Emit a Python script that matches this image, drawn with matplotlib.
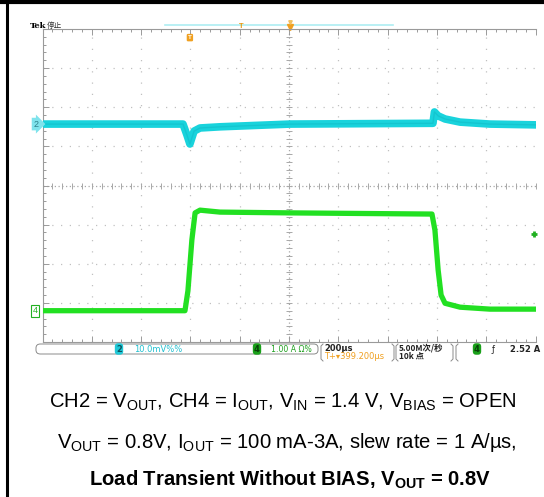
import numpy as np
import matplotlib.pyplot as plt
from matplotlib.patches import FancyBboxPatch
from matplotlib.lines import Line2D

plt.rcParams['font.family'] = ['Liberation Sans', 'Noto Sans CJK SC', 'DejaVu Sans']
plt.rcParams['mathtext.fontset'] = 'custom'
plt.rcParams['mathtext.rm'] = 'Liberation Sans'
plt.rcParams['mathtext.bf'] = 'Liberation Sans:bold'

# scope traces: time in us (200 us/div), level in divisions
ch2_t = [-1000, -430, -414, -402, -385, -361, -280, -158, 4, 584, 590, 605, 633, 694, 815, 1000]
ch2_v = [1.57, 1.57, 1.29, 1.06, 1.39, 1.47, 1.50, 1.53, 1.57, 1.59, 1.88, 1.78, 1.70, 1.62, 1.57, 1.55]

ch4_t = [-1000, -422, -410, -394, -381, -361, -280, 4, 580, 592, 605, 617, 633, 694, 815, 1000]
ch4_v = [-3.20, -3.20, -2.69, -1.39, -0.70, -0.63, -0.68, -0.70, -0.73, -1.14, -2.16, -2.80, -3.01, -3.11, -3.16, -3.16]

trig_level = -1.24
trig_time = -402

caption1 = r'CH2 = V$_{\mathrm{OUT}}$, CH4 = I$_{\mathrm{OUT}}$, V$_{\mathrm{IN}}$ = 1.4 V, V$_{\mathrm{BIAS}}$ = OPEN'
caption2 = r'V$_{\mathrm{OUT}}$ = 0.8V, I$_{\mathrm{OUT}}$ = 100 mA-3A, slew rate = 1 A/µs,'
caption3 = r'Load Transient Without BIAS, V$_{\mathbf{OUT}}$ = 0.8V'

W, H = 544, 497
fig = plt.figure(figsize=(W / 100, H / 100), dpi=100)

def fx(x):
    return x / W

def fy(y):
    return 1 - y / H

ax = fig.add_axes([fx(42.5), fy(342), fx(493), 313 / H])
ax.set_xlim(-1000, 1000)
ax.set_ylim(-4, 4)

# graticule
grid_c = '#c0c0c0'
for x in np.arange(-800, 1000, 200):
    if x != 0:
        ax.axvline(x, color=grid_c, lw=0.9, ls=(0, (1, 8)), zorder=1)
for y in np.arange(-3, 4, 1):
    if y != 0:
        ax.axhline(y, color=grid_c, lw=0.9, ls=(0, (1, 6)), zorder=1)
ax.axvline(0, color='#a8a8a8', lw=0.9, ls=(0, (1, 2)), zorder=1)
ax.axhline(0, color='#a8a8a8', lw=0.9, ls=(0, (1, 2)), zorder=1)
ax.plot(np.zeros(41), np.linspace(-4, 4, 41), ls='none', marker='_', ms=4, mew=0.7, color='#a8a8a8', zorder=1)
ax.plot(np.linspace(-1000, 1000, 51), np.zeros(51), ls='none', marker='|', ms=4, mew=0.7, color='#a8a8a8', zorder=1)

for s in ['top', 'left', 'bottom']:
    ax.spines[s].set_color('#9a9a9a')
    ax.spines[s].set_linewidth(0.8)
ax.spines['right'].set_visible(False)
ax.set_xticks(np.arange(-1000, 1001, 200))
ax.set_xticks(np.arange(-1000, 1001, 40), minor=True)
ax.set_yticks(np.arange(-4, 5, 1))
ax.set_yticks(np.arange(-4, 4.01, 0.2), minor=True)
ax.tick_params(which='both', direction='in', top=True, bottom=True, left=True, right=False,
               labelbottom=False, labelleft=False, color='#9a9a9a', width=0.7)
ax.tick_params(which='major', length=4)
ax.tick_params(which='minor', length=2.5)

# traces
ax.plot(ch2_t, ch2_v, color='#19d3dc', lw=5.5, solid_joinstyle='round', zorder=3)
ax.plot(ch2_t, ch2_v, color='#10b8c4', lw=1.0, alpha=0.5, zorder=3)
ax.plot(ch4_t, ch4_v, color='#22e022', lw=3.8, solid_joinstyle='round', zorder=3)

# channel markers
ax.text(-0.008, ch2_v[0], '2', transform=ax.get_yaxis_transform(), ha='right', va='center',
        fontsize=6.5, color='#2a7f8a', clip_on=False,
        bbox=dict(boxstyle='rarrow,pad=0.2', fc='#7fe3ec', ec='none'))
ax.text(-0.01, ch4_v[0], '4', transform=ax.get_yaxis_transform(), ha='right', va='center',
        fontsize=6.5, color='#22b022', clip_on=False,
        bbox=dict(boxstyle='square,pad=0.15', fc='white', ec='#22b022', lw=0.8))
ax.plot([995], [trig_level], marker='+', ms=5, mew=2, color='#22b022', clip_on=False, zorder=4)

# trigger / record markers at top
ax.plot([-503, 422], [1.013, 1.013], transform=ax.get_xaxis_transform(), color='#aeeef2',
        lw=1.2, clip_on=False)
ax.text(-195, 0.998, 'T', transform=ax.get_xaxis_transform(), ha='center', va='bottom',
        fontsize=5.5, color='#e89a10', fontweight='bold', clip_on=False)
ax.plot([4], [1.005], transform=ax.get_xaxis_transform(), marker='v', ms=4, color='#f0a020',
        clip_on=False)
ax.plot([4], [1.022], transform=ax.get_xaxis_transform(), marker='v', ms=2.5, color='#f0c060',
        clip_on=False)
ax.text(trig_time, 3.78, 'T', ha='center', va='center', fontsize=4.5, color='white',
        fontweight='bold', bbox=dict(boxstyle='round,pad=0.2', fc='#f0a020', ec='none'))

fig.text(fx(30), fy(28), 'Tek', fontsize=6, fontweight='bold', family=['DejaVu Serif'],
         va='baseline')
fig.text(fx(47), fy(28), '停止', fontsize=5.5, family=['Noto Sans CJK SC', 'DejaVu Sans'],
         va='baseline', color='#333333')

# status bar
box = FancyBboxPatch((fx(36), fy(354)), fx(318 - 36), 10 / H,
                     boxstyle='round,pad=0,rounding_size=0.008', transform=fig.transFigure,
                     fc='none', ec='#8a8a8a', lw=0.7)
fig.patches.append(box)
for xa, xb in [(321, 394), (396, 453), (456, 545)]:
    fig.lines.append(Line2D([fx(xa + 2), fx(xa), fx(xa), fx(xa + 2)],
                            [fy(344), fy(346), fy(359), fy(361)], color='#8a8a8a', lw=0.7,
                            transform=fig.transFigure))
    if xb < 544:
        fig.lines.append(Line2D([fx(xb - 2), fx(xb), fx(xb), fx(xb - 2)],
                                [fy(344), fy(346), fy(359), fy(361)], color='#8a8a8a', lw=0.7,
                                transform=fig.transFigure))

sb = dict(fontsize=6, va='center', family=['DejaVu Sans'])
fig.text(fx(119), fy(349), '2', ha='center', color='#0a5560', fontweight='bold',
         bbox=dict(boxstyle='round,pad=0.15,rounding_size=0.4', fc='#20c8d6', ec='none'), **sb)
fig.text(fx(134), fy(349), '10.0mV%%', color='#20c0d0', **sb)
fig.text(fx(257), fy(349), '4', ha='center', color='#0a400a', fontweight='bold',
         bbox=dict(boxstyle='round,pad=0.15,rounding_size=0.4', fc='#1aa01a', ec='none'), **sb)
fig.text(fx(271), fy(349), '1.00 A Ω%', color='#1fa01f', fontsize=5.6, va='center',
         family=['DejaVu Sans'])
fig.text(fx(324), fy(348.5), '200µs', color='#222222', fontweight='bold', **sb)
fig.text(fx(324), fy(356.5), 'T+▾399.200µs', color='#f0a020', **sb)
fig.text(fx(399), fy(348.5), '5.00M次/秒', color='#222222', fontsize=6, va='center',
         family=['Noto Sans CJK SC', 'DejaVu Sans'], fontweight='bold')
fig.text(fx(399), fy(356.5), '10k 点', color='#222222', fontsize=6, va='center',
         family=['Noto Sans CJK SC', 'DejaVu Sans'], fontweight='bold')
fig.text(fx(477), fy(349), '4', ha='center', color='#0a400a', fontweight='bold',
         bbox=dict(boxstyle='round,pad=0.15,rounding_size=0.4', fc='#1aa01a', ec='none'), **sb)
fig.text(fx(492), fy(349), 'ƒ', color='#222222', **sb)
fig.text(fx(510), fy(349), '2.52 A', color='#222222', fontweight='bold', **sb)

# captions
fig.text(fx(283), fy(402), caption1, ha='center', va='center', fontsize=14.6)
fig.text(fx(287), fy(442), caption2, ha='center', va='center', fontsize=14.6)
fig.text(fx(290), fy(480), caption3, ha='center', va='center', fontsize=14.6, fontweight='bold')

# page borders
fig.lines.append(Line2D([0, 1], [fy(2), fy(2)], color='black', lw=3, transform=fig.transFigure))
fig.lines.append(Line2D([fx(7), fx(7)], [0, 1], color='black', lw=2.2, transform=fig.transFigure))

fig.savefig('out.png', dpi=100)
